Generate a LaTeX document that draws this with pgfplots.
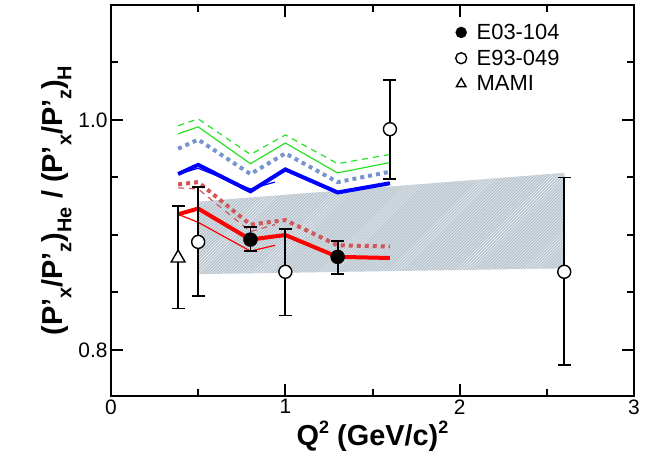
\documentclass[border=0pt]{standalone}
\usepackage{fontspec}
\setmainfont{Liberation Sans}
\usepackage{pgfplots}
\pgfplotsset{compat=1.18}
\usetikzlibrary{patterns}
\definecolor{lgreen}{RGB}{40,225,40}
\definecolor{lblue}{RGB}{120,148,208}
\definecolor{lred}{RGB}{208,88,88}
\definecolor{bandcol}{RGB}{184,197,207}
\newcommand\sub[1]{\raisebox{-0.55ex}{\fontsize{20}{20}\selectfont #1}}
\newcommand\sups[1]{\raisebox{0.8ex}{\fontsize{18}{18}\selectfont #1}}

\begin{document}
\begin{tikzpicture}
\begin{axis}[
  scale only axis, width=523bp, height=391bp,
  xmin=0, xmax=3, ymin=0.76, ymax=1.1,
  xtick={0,1,2,3}, minor xtick={0.5,1.5,2.5},
  ytick={0.8,1.0}, minor ytick={0.85,0.9,0.95,1.05},
  yticklabel style={/pgf/number format/.cd, fixed, fixed zerofill, precision=1},
  /pgf/number format/assume math mode=true,
  tick label style={font=\fontsize{21}{21}\selectfont},
  tick align=inside, major tick length=12bp, minor tick length=7bp,
  axis line style={line width=2.2bp},
  tick style={line width=2bp, black},
  xlabel={Q\sups{2} (GeV/c)\sups{2}},
  xlabel style={font=\fontsize{29}{29}\selectfont\bfseries},
  ylabel={(P’\sub{x}/P’\sub{z})\sub{He} / (P’\sub{x}/P’\sub{z})\sub{H}},
  ylabel style={font=\fontsize{29}{29}\selectfont\bfseries},
  legend style={draw=none, fill=none, at={(0.653,0.962)}, anchor=north west,
    font=\fontsize{22}{25}\selectfont, row sep=5bp},
  legend cell align=left,
  legend image post style={mark size=5.5bp},
  error bars/error bar style={line width=1.8bp, black},
  error bars/error mark options={rotate=90, mark size=6.5bp, line width=1.8bp, black},
]
% systematic band
\addplot[fill=bandcol, draw=none, forget plot,
  postaction={pattern=north east lines, pattern color=white!85!bandcol}]
  coordinates {(0.5,0.866)(2.6,0.871)(2.6,0.954)(0.5,0.929)} -- cycle;

% model curves
\addplot[lgreen, line width=1.2bp, dash pattern=on 6bp off 5bp, forget plot] coordinates {
  (0.385,0.995)(0.5,1.001)(0.8,0.970)(1.0,0.987)(1.3,0.962)(1.6,0.970)};
\addplot[lgreen, line width=1.2bp, forget plot] coordinates {
  (0.385,0.988)(0.5,0.994)(0.8,0.962)(1.0,0.980)(1.3,0.954)(1.6,0.963)};
\addplot[lblue, line width=4bp, dash pattern=on 4bp off 4bp, forget plot] coordinates {
  (0.385,0.975)(0.5,0.983)(0.8,0.953)(1.0,0.971)(1.3,0.946)(1.6,0.955)};
\addplot[blue, line width=4bp, forget plot] coordinates {
  (0.385,0.953)(0.5,0.961)(0.8,0.938)(1.0,0.957)(1.3,0.937)(1.6,0.945)};
\addplot[blue, line width=1.2bp, forget plot] coordinates {
  (0.385,0.953)(0.5,0.958)(0.8,0.940)(0.94,0.946)};
\addplot[lred, line width=4bp, dash pattern=on 4bp off 4bp, forget plot] coordinates {
  (0.385,0.944)(0.5,0.946)(0.8,0.909)(1.0,0.913)(1.3,0.891)(1.6,0.890)};
\addplot[lred, line width=1.2bp, dash pattern=on 6bp off 5bp, forget plot] coordinates {
  (0.385,0.941)(0.5,0.940)(0.8,0.903)(0.94,0.909)};
\addplot[red, line width=4bp, forget plot] coordinates {
  (0.385,0.918)(0.5,0.923)(0.8,0.896)(1.0,0.900)(1.3,0.881)(1.6,0.880)};
\addplot[red, line width=1.2bp, forget plot] coordinates {
  (0.385,0.918)(0.5,0.911)(0.8,0.886)(0.94,0.891)};

% data
\addplot[only marks, mark=*, mark size=7bp, mark options={fill=black, draw=black},
  error bars/.cd, y dir=both, y explicit]
  table[x=x, y=y, y error plus=ep, y error minus=em] {
x    y     ep    em
0.8  0.896 0.011 0.010
1.3  0.881 0.014 0.015
};
\addlegendentry{\hspace{8bp}E03-104}
\addplot[only marks, mark=*, mark size=6.5bp, mark options={fill=white, draw=black, line width=1.4bp},
  error bars/.cd, y dir=both, y explicit]
  table[x=x, y=y, y error plus=ep, y error minus=em] {
x    y     ep    em
0.5  0.894 0.048 0.047
1.0  0.868 0.037 0.038
1.6  0.992 0.043 0.043
2.6  0.868 0.082 0.081
};
\addlegendentry{\hspace{8bp}E93-049}
\addplot[only marks, mark=triangle*, mark size=8bp, mark options={fill=white, draw=black, line width=1.4bp},
  error bars/.cd, y dir=both, y explicit]
  table[x=x, y=y, y error plus=ep, y error minus=em] {
x     y     ep    em
0.385 0.880 0.045 0.044
};
\addlegendentry{\hspace{8bp}MAMI}
\end{axis}
\path (current axis.south west) ++(-111bp,-70bp);
\path (current axis.north east) ++(29bp,5bp);
\end{tikzpicture}
\end{document}
